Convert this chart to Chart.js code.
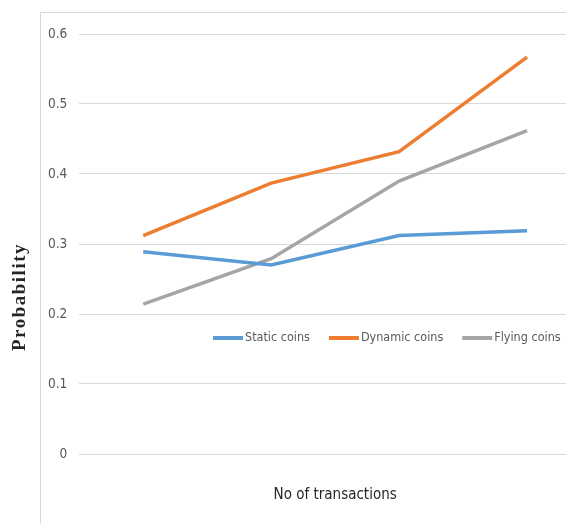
<!DOCTYPE html>
<html>
<head>
<meta charset="utf-8">
<script src="https://cdn.jsdelivr.net/npm/chart.js@4/dist/chart.umd.min.js"></script>
<style>
  body { margin: 0; background: #fff; overflow: hidden; }
  #wrap { position: relative; width: 600px; height: 524px; }
  #cadre { position: absolute; left: 40px; top: 12px; width: 600px; height: 600px;
    border-left: 1px solid #d9d9d9; border-top: 1px solid #d9d9d9; }
  canvas { position: absolute; left: 0; top: 0; }
</style>
</head>
<body>
<div id="wrap">
  <div id="cadre"></div>
  <canvas id="myChart" width="600" height="524"></canvas>
</div>
<script>
// donnees
const labels = ["1", "2", "3", "4"];
const staticCoins = [0.289, 0.27, 0.312, 0.319];
const dynamicCoins = [0.312, 0.387, 0.432, 0.567];
const flyingCoins = [0.214, 0.279, 0.39, 0.462];
const yTicks = [0, 0.1, 0.2, 0.3, 0.4, 0.5, 0.6];

const police = "'Liberation Sans Narrow', 'DejaVu Sans Condensed', sans-serif";

// legende dessinee dans la zone du graphique
const legendeInterne = {
  id: "legendeInterne",
  afterDraw(chart) {
    const ctx = chart.ctx;
    let x = 213;
    const y = 338;
    ctx.save();
    ctx.font = "12.5px " + police;
    ctx.textBaseline = "middle";
    chart.data.datasets.forEach((ds) => {
      ctx.strokeStyle = ds.borderColor;
      ctx.lineWidth = 4;
      ctx.beginPath();
      ctx.moveTo(x, y);
      ctx.lineTo(x + 30, y);
      ctx.stroke();
      ctx.fillStyle = "#595959";
      ctx.fillText(ds.label, x + 32, y);
      x += 32 + ctx.measureText(ds.label).width + 19;
    });
    // titre vertical
    ctx.translate(20, 297);
    ctx.rotate(-Math.PI / 2);
    ctx.font = "bold 19px 'Liberation Serif', 'DejaVu Serif', serif";
    ctx.letterSpacing = "1.5px";
    ctx.fillStyle = "#262626";
    ctx.textAlign = "center";
    ctx.fillText("Probability", 0, 0);
    ctx.restore();
  },
};

const data = {
  labels: labels,
  datasets: [
    { label: "Static coins", data: staticCoins, borderColor: "#5b9bd5" },
    { label: "Dynamic coins", data: dynamicCoins, borderColor: "#ed7d31" },
    { label: "Flying coins", data: flyingCoins, borderColor: "#a5a5a5" },
  ],
};

const config = {
  type: "line",
  data: data,
  options: {
    responsive: false,
    animation: false,
    elements: {
      point: { radius: 0 },
      line: { borderWidth: 3.5, tension: 0 },
    },
    layout: { padding: { left: 36, right: 9, top: 34, bottom: 16 } },
    plugins: { legend: false, tooltip: { enabled: false } },
    scales: {
      x: {
        offset: true,
        grid: { display: false },
        border: { display: false },
        ticks: { display: false },
        title: {
          display: true,
          text: "No of transactions",
          color: "#262626",
          font: { family: police, size: 15 },
          padding: { top: 24 },
        },
      },
      y: {
        min: 0,
        max: 0.6,
        afterBuildTicks: (scale) => {
          scale.ticks = yTicks.map((v) => ({ value: v }));
        },
        grid: { color: "#d9d9d9", lineWidth: 1, drawTicks: false },
        border: { display: false },
        ticks: {
          color: "#595959",
          padding: 12,
          font: { family: police, size: 13.5 },
          callback: (v) => (v === 0 ? "0" : v.toFixed(1)),
        },
      },
    },
  },
  plugins: [legendeInterne],
};

let context = document.getElementById("myChart").getContext("2d");
let chart = new Chart(context, config);
</script>
</body>
</html>
